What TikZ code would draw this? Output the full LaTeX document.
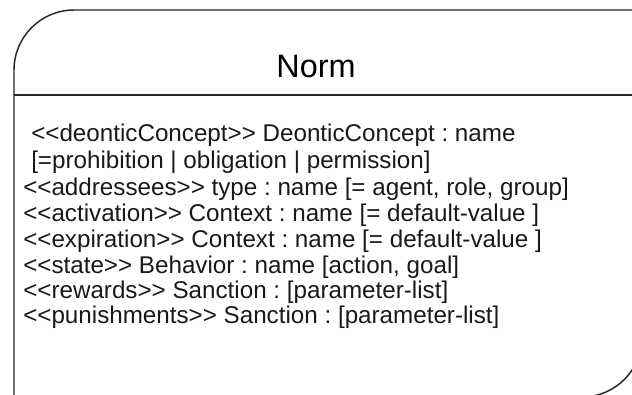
\documentclass[tikz,border=0pt]{standalone}
\usepackage{fontspec}
\setmainfont{Liberation Sans}[Ligatures=TeXOff]
\frenchspacing
\begin{document}
\begin{tikzpicture}[x=0.75pt,y=-0.75pt,
  frame/.style={draw=black!85,line width=1.1pt},
  attr/.style={anchor=base west,inner sep=0pt,font=\fontsize{18.15pt}{20pt}\selectfont,text=black!90},
  titletext/.style={anchor=base,inner sep=0pt,font=\fontsize{24.3pt}{28pt}\selectfont,text=black}]
\useasboundingbox (0,0) rectangle (632,394);
\begin{scope}
\clip (0,0) rectangle (632,394);
\draw[frame] (14,400) -- (14,70) .. controls (14,36.9) and (40.9,10) .. (74,10)
  -- (642,10) -- (642,337) .. controls (642,370.1) and (615.1,397) .. (582,397) -- cycle;
\draw[frame] (14,95) -- (642,95);
\end{scope}
\node[titletext] (title) at (316,77) {Norm};
\node[attr] (l1) at (31,141) {<<deonticConcept>> DeonticConcept : name};
\node[attr] (l2) at (31,168) {[=prohibition | obligation | permission]};
\node[attr] (l3) at (23,195) {<<addressees>> type : name [= agent, role, group]};
\node[attr] (l4) at (23,221) {<<activation>> Context : name [= default-value ]};
\node[attr] (l5) at (23,247) {<<expiration>> Context : name [= default-value ]};
\node[attr] (l6) at (23,273) {<<state>> Behavior : name [action, goal]};
\node[attr] (l7) at (23,298) {<<rewards>> Sanction : [parameter-list]};
\node[attr] (l8) at (23,323) {<<punishments>> Sanction : [parameter-list]};
\end{tikzpicture}
\end{document}
